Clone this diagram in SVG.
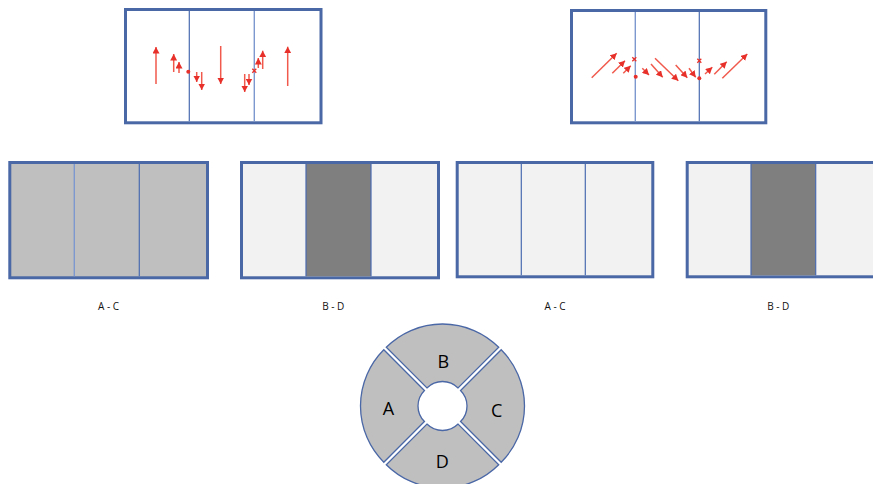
<svg xmlns="http://www.w3.org/2000/svg" width="873" height="484" viewBox="0 0 873 484">
<style>
.frame{fill:#ffffff;stroke:#4a67a6;stroke-width:3}
.div{stroke:#4a6ab0;stroke-width:1.2}
.divl{stroke:#7d98cf;stroke-width:1.4}
.arr{stroke:#f0594c;stroke-width:1.5;fill:none;marker-end:url(#ah)}
.dot{fill:#e8302a}
.xm{stroke:#e8302a;stroke-width:1.3}
.lbl{font-family:"Open Sans","Liberation Sans",sans-serif;font-size:10px;fill:#111;text-anchor:middle}
.seg{fill:#bfbfbf;stroke:#4a67a6;stroke-width:1.3}
.segt{font-family:"Open Sans","Liberation Sans",sans-serif;font-size:18px;fill:#000;text-anchor:middle}
</style>
<defs>
<marker id="ah" markerUnits="userSpaceOnUse" markerWidth="7" markerHeight="7" refX="6.5" refY="3.5" orient="auto">
<path d="M0,0 L6.5,3.5 L0,7 Z" fill="#e8302a"/>
</marker>
<path id="sector" d="M-56.215,-58.715 A79.5,79.5 0 0 1 56.215,-58.715 L15.556,-18.056 A22,22 0 0 0 -15.556,-18.056 Z"/>
</defs>
<rect width="873" height="484" fill="#ffffff"/>

<g id="court-top-left">
<rect class="frame" x="125.5" y="9.5" width="195.5" height="113.3"/>
<line class="div" x1="189.3" y1="11" x2="189.3" y2="121.3"/>
<line class="divl" x1="254.3" y1="11" x2="254.3" y2="121.3"/>
<circle class="dot" cx="188.3" cy="71.7" r="2"/>
<path class="xm" d="M252.3,68.7 L256.3,72.7 M256.3,68.7 L252.3,72.7"/>
</g>

<g id="court-top-right">
<rect class="frame" x="571.5" y="10.5" width="194.3" height="112.3"/>
<line class="divl" x1="635.3" y1="12" x2="635.3" y2="121.3"/>
<line class="div" x1="699.3" y1="12" x2="699.3" y2="121.3"/>
<circle class="dot" cx="635.7" cy="76.7" r="2"/>
<circle class="dot" cx="699.3" cy="78.3" r="2"/>
<path class="xm" d="M632.3,57.3 L636.3,61.3 M636.3,57.3 L632.3,61.3"/>
<path class="xm" d="M697.3,58.7 L701.3,62.7 M701.3,58.7 L697.3,62.7"/>
</g>

<g id="connectors">
<line class="arr" x1="156" y1="84" x2="156" y2="47"/>
<line class="arr" x1="173.7" y1="72" x2="173.7" y2="54"/>
<line class="arr" x1="179" y1="73" x2="179" y2="62"/>
<line class="arr" x1="196.7" y1="72" x2="196.7" y2="82"/>
<line class="arr" x1="201.7" y1="72" x2="201.7" y2="90"/>
<line class="arr" x1="220.7" y1="46" x2="220.7" y2="84"/>
<line class="arr" x1="244.7" y1="74" x2="244.7" y2="92"/>
<line class="arr" x1="249" y1="74" x2="249" y2="85"/>
<line class="arr" x1="258.3" y1="68" x2="258.3" y2="58"/>
<line class="arr" x1="262.7" y1="69" x2="262.7" y2="50.7"/>
<line class="arr" x1="287.7" y1="86" x2="287.7" y2="46.7"/>

<line class="arr" x1="591.7" y1="77.7" x2="616.7" y2="53.3"/>
<line class="arr" x1="612.3" y1="73.3" x2="625" y2="60.7"/>
<line class="arr" x1="623.3" y1="73.3" x2="630.7" y2="65.7"/>
<line class="arr" x1="642.3" y1="68.3" x2="649" y2="75"/>
<line class="arr" x1="651" y1="64" x2="662.7" y2="77.3"/>
<line class="arr" x1="655" y1="58.3" x2="678.3" y2="80.7"/>
<line class="arr" x1="675.7" y1="65" x2="687.3" y2="77.7"/>
<line class="arr" x1="689" y1="68.3" x2="695.7" y2="77.3"/>
<line class="arr" x1="705" y1="74" x2="712.3" y2="67.3"/>
<line class="arr" x1="714.3" y1="74.3" x2="726.7" y2="61.7"/>
<line class="arr" x1="722.3" y1="78.3" x2="747.3" y2="54"/>
</g>

<g id="panel-1">
<rect x="9.8" y="162.5" width="197.7" height="115.3" fill="#bfbfbf" stroke="#4a67a6" stroke-width="3"/>
<line class="divl" x1="74.3" y1="164" x2="74.3" y2="276.3"/>
<line class="div" x1="139.3" y1="164" x2="139.3" y2="276.3"/>
<text class="lbl" x="108.5" y="310">A - C</text>
</g>

<g id="panel-2">
<rect x="241.5" y="162.5" width="197" height="115.3" fill="#f2f2f2" stroke="#4a67a6" stroke-width="3"/>
<rect x="306" y="164" width="65" height="112.3" fill="#7f7f7f"/>
<line class="div" x1="306" y1="164" x2="306" y2="276.3"/>
<line class="div" x1="371" y1="164" x2="371" y2="276.3"/>
<text class="lbl" x="333.3" y="310">B - D</text>
</g>

<g id="panel-3">
<rect x="457.2" y="162.5" width="195.6" height="114.3" fill="#f2f2f2" stroke="#4a67a6" stroke-width="3"/>
<line class="div" x1="521.3" y1="164" x2="521.3" y2="275.3"/>
<line class="div" x1="585.3" y1="164" x2="585.3" y2="275.3"/>
<text class="lbl" x="555" y="309.5">A - C</text>
</g>

<g id="panel-4">
<rect x="687.2" y="162.5" width="197" height="114.3" fill="#f2f2f2" stroke="#4a67a6" stroke-width="3"/>
<rect x="751" y="164" width="64.7" height="111.3" fill="#7f7f7f"/>
<line class="div" x1="751" y1="164" x2="751" y2="275.3"/>
<line class="div" x1="815.7" y1="164" x2="815.7" y2="275.3"/>
<text class="lbl" x="778.3" y="309.5">B - D</text>
</g>

<g id="seg-B">
<use href="#sector" class="seg" transform="translate(442.5 406)"/>
<text class="segt" x="443.3" y="367.5">B</text>
</g>
<g id="seg-A">
<use href="#sector" class="seg" transform="translate(442.5 406) rotate(-90)"/>
<text class="segt" x="388.5" y="415">A</text>
</g>
<g id="seg-C">
<use href="#sector" class="seg" transform="translate(442.5 406) rotate(90)"/>
<text class="segt" x="496.7" y="417">C</text>
</g>
<g id="seg-D">
<use href="#sector" class="seg" transform="translate(442.5 406) rotate(180)"/>
<text class="segt" x="442.3" y="468">D</text>
</g>
</svg>
